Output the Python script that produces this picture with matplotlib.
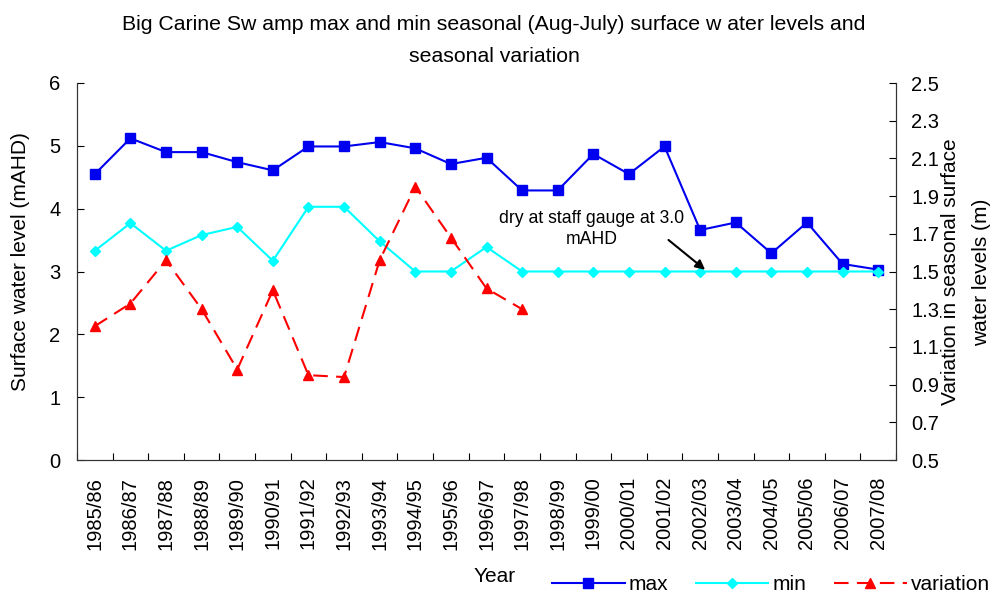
import matplotlib
matplotlib.use('Agg')
import matplotlib.pyplot as plt
import numpy as np

plt.rcParams['font.family'] = ['Liberation Sans', 'DejaVu Sans']

# seasons (Aug-July)
seasons = ['1985/86', '1986/87', '1987/88', '1988/89', '1989/90', '1990/91',
           '1991/92', '1992/93', '1993/94', '1994/95', '1995/96', '1996/97',
           '1997/98', '1998/99', '1999/00', '2000/01', '2001/02', '2002/03',
           '2003/04', '2004/05', '2005/06', '2006/07', '2007/08']

max_level = [4.55, 5.12, 4.90, 4.90, 4.74, 4.61, 4.99, 4.99, 5.06, 4.96, 4.71, 4.81,
             4.29, 4.29, 4.87, 4.55, 4.99, 3.66, 3.78, 3.29, 3.78, 3.12, 3.03]
min_level = [3.33, 3.77, 3.33, 3.58, 3.71, 3.17, 4.03, 4.03, 3.48, 3.0, 3.0, 3.39,
             3.0, 3.0, 3.0, 3.0, 3.0, 3.0, 3.0, 3.0, 3.0, 3.0, 3.0]
variation = [1.21, 1.33, 1.56, 1.30, 0.98, 1.40, 0.95, 0.94, 1.56, 1.95, 1.68, 1.41, 1.30]

x = np.arange(len(seasons))

W, H = 994, 593
fig = plt.figure(figsize=(W / 100, H / 100), dpi=100)
# plot area: x 77..896, y 83..460 px
ax = fig.add_axes([77 / W, 1 - 460 / H, (896 - 77) / W, (460 - 83) / H])
ax2 = ax.twinx()

l1, = ax.plot(x, max_level, color='#0000f0', marker='s', markersize=6.5, lw=1.5, label='max')
l2, = ax.plot(x, min_level, color='cyan', marker='D', markersize=5, lw=1.5, label='min')
l3, = ax2.plot(x[:len(variation)], variation, color='red', marker='^', markersize=7.5,
               lw=1.5, dashes=(7, 4), label='variation')

ax.set_xlim(-0.5, len(seasons) - 0.5)
ax.set_ylim(0, 6)
ax2.set_ylim(0.5, 2.5)
ax.set_yticks(range(0, 7))
ax2.set_yticks(np.arange(0.5, 2.51, 0.2))
ax2.set_yticklabels(['%.1f' % v for v in np.arange(0.5, 2.51, 0.2)])

# tick marks at category edges, labels at centres
ax.set_xticks(np.arange(-0.5, len(seasons)))
ax.set_xticklabels([])
ax.set_xticks(x, minor=True)
ax.set_xticklabels(seasons, minor=True, rotation=90, fontsize=14.5)
ax.tick_params(axis='x', which='minor', length=0, pad=12)
ax.tick_params(axis='x', which='major', direction='in', length=5)
ax.tick_params(axis='y', direction='in', length=5, labelsize=14.5, pad=12)
ax2.tick_params(axis='y', direction='in', length=5, labelsize=14.5, pad=11)

for a in (ax, ax2):
    a.spines['top'].set_visible(False)
    for s in a.spines.values():
        s.set_color('#333333')

fig.text(21 / W, 1 - 262 / H, 'Surface water level (mAHD)', rotation=90,
         ha='center', va='center', fontsize=15)
fig.text(950 / W, 1 - 272 / H, 'Variation in seasonal surface', rotation=90,
         ha='center', va='center', fontsize=15)
fig.text(982 / W, 1 - 272 / H, 'water levels (m)', rotation=90,
         ha='center', va='center', fontsize=15)
fig.text(495 / W, 1 - 576 / H, 'Year', ha='center', va='center', fontsize=15)

fig.text(494 / W, 1 - 25 / H,
         'Big Carine Sw amp max and min seasonal (Aug-July) surface w ater levels and',
         ha='center', va='center', fontsize=15.3)
fig.text(494 / W, 1 - 57 / H, 'seasonal variation', ha='center', va='center', fontsize=15.3)

ax.text(13.95, 3.68, 'dry at staff gauge at 3.0\nmAHD', ha='center', va='center',
        fontsize=12.7, linespacing=1.3)
ax.annotate('', xy=(17.2, 3.0), xytext=(16.05, 3.53),
            arrowprops=dict(arrowstyle='-|>', color='black', lw=1.5, mutation_scale=14))

fig.legend(handles=[l1, l2, l3], loc='center right', bbox_to_anchor=(1.0, 1 - 585 / H),
           ncol=3, frameon=False, fontsize=15, handlelength=3.5, columnspacing=1.3,
           handletextpad=0.2, borderaxespad=0.1, borderpad=0.1)

fig.savefig('out.png', dpi=100)
